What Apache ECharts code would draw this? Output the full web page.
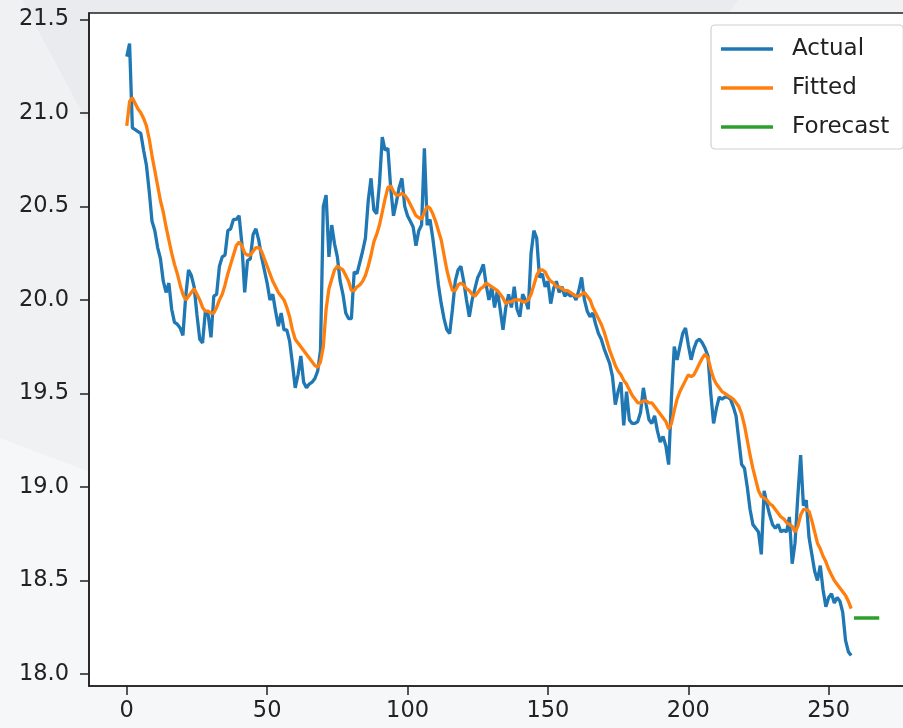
<!DOCTYPE html>
<html>
<head>
<meta charset="utf-8">
<script src="https://cdn.jsdelivr.net/npm/echarts@6/dist/echarts.min.js"></script>
<style>
  html, body { margin: 0; padding: 0; background: #f6f7f8; }
  #main { width: 903px; height: 728px; }
</style>
</head>
<body>
<div id="main"></div>
<script>
var actual = [
  21.30, 21.37, 20.92, 20.91, 20.90, 20.89, 20.80, 20.72, 20.58, 20.42,
  20.37, 20.28, 20.22, 20.10, 20.04, 20.09, 19.95, 19.88, 19.87, 19.85,
  19.81, 20.02, 20.16, 20.13, 20.07, 19.92, 19.79, 19.77, 19.94, 19.92,
  19.80, 20.02, 20.03, 20.18, 20.23, 20.24, 20.37, 20.38, 20.43, 20.43,
  20.45, 20.30, 20.04, 20.21, 20.22, 20.35, 20.38, 20.32, 20.23, 20.16,
  20.09, 20.00, 20.03, 19.94, 19.86, 19.93, 19.84, 19.84, 19.78, 19.66,
  19.53, 19.60, 19.70, 19.56, 19.53, 19.55, 19.56, 19.58, 19.62, 19.73,
  20.50, 20.56, 20.23, 20.40, 20.30, 20.23, 20.10, 20.03, 19.93, 19.90,
  19.90, 20.15, 20.14, 20.20, 20.26, 20.33, 20.53, 20.65, 20.48, 20.46,
  20.62, 20.87, 20.80, 20.81, 20.60, 20.45, 20.52, 20.60, 20.65, 20.50,
  20.45, 20.42, 20.39, 20.29, 20.37, 20.40, 20.81, 20.40, 20.43, 20.33,
  20.21, 20.08, 19.98, 19.90, 19.84, 19.82, 19.95, 20.10, 20.16, 20.18,
  20.10, 20.00, 19.91, 20.00, 20.06, 20.12, 20.15, 20.19, 20.08, 20.00,
  20.07, 19.96, 20.05, 19.95, 19.84, 19.96, 20.03, 19.96, 20.07, 19.95,
  19.91, 20.03, 20.00, 19.95, 20.25, 20.37, 20.33, 20.12, 20.14, 20.07,
  20.10, 19.98, 20.06, 20.10, 20.04, 20.07, 20.02, 20.04, 20.02, 20.03,
  20.00, 20.05, 20.12, 20.00, 19.94, 19.91, 19.93, 19.87, 19.82, 19.79,
  19.74, 19.70, 19.66, 19.59, 19.44, 19.51, 19.56, 19.33, 19.51, 19.36,
  19.34, 19.34, 19.35, 19.40, 19.53, 19.44, 19.36, 19.34, 19.38, 19.30,
  19.24, 19.27, 19.22, 19.12, 19.48, 19.75, 19.68, 19.75, 19.82, 19.85,
  19.76, 19.68, 19.74, 19.78, 19.79, 19.77, 19.74, 19.70, 19.50, 19.34,
  19.42, 19.48, 19.47, 19.48, 19.48, 19.47, 19.43, 19.38, 19.25, 19.12,
  19.10, 19.00, 18.88, 18.80, 18.78, 18.76, 18.64, 18.98, 18.91, 18.85,
  18.80, 18.78, 18.80, 18.76, 18.77, 18.76, 18.84, 18.59, 18.70, 18.95,
  19.17, 18.90, 18.93, 18.73, 18.64, 18.55, 18.50, 18.58, 18.45, 18.36,
  18.41, 18.43, 18.38, 18.41, 18.39, 18.33, 18.18, 18.12, 18.10
];

var fitted = [
  20.93, 21.06, 21.08, 21.05, 21.02, 21.00, 20.97, 20.93, 20.86, 20.77,
  20.69, 20.61, 20.53, 20.47, 20.39, 20.32, 20.25, 20.19, 20.14, 20.08,
  20.03, 20.00, 20.02, 20.04, 20.06, 20.03, 20.00, 19.96, 19.94, 19.94,
  19.93, 19.93, 19.96, 20.00, 20.03, 20.08, 20.14, 20.19, 20.24, 20.29,
  20.31, 20.29, 20.25, 20.24, 20.24, 20.26, 20.28, 20.28, 20.26, 20.22,
  20.18, 20.14, 20.10, 20.07, 20.04, 20.02, 20.00, 19.96, 19.91, 19.84,
  19.79, 19.77, 19.75, 19.73, 19.71, 19.69, 19.67, 19.65, 19.64, 19.67,
  19.75, 19.95, 20.06, 20.11, 20.16, 20.18, 20.17, 20.16, 20.13, 20.10,
  20.05, 20.05, 20.07, 20.08, 20.10, 20.13, 20.18, 20.24, 20.31, 20.35,
  20.40, 20.47, 20.54, 20.60, 20.61, 20.58, 20.56, 20.56, 20.57, 20.56,
  20.54, 20.51, 20.48, 20.45, 20.44, 20.43, 20.47, 20.50, 20.49, 20.46,
  20.42, 20.37, 20.32, 20.24, 20.16, 20.10, 20.05, 20.05, 20.08, 20.09,
  20.08, 20.06, 20.05, 20.03, 20.02, 20.04, 20.06, 20.07, 20.09, 20.08,
  20.07, 20.06, 20.05, 20.03, 20.01, 19.98, 19.99, 19.99, 20.00, 20.00,
  20.00, 19.99, 19.99, 20.00, 20.03, 20.08, 20.13, 20.16, 20.16, 20.15,
  20.12, 20.10, 20.09, 20.07, 20.07, 20.06, 20.05, 20.05, 20.04, 20.03,
  20.02, 20.02, 20.03, 20.04, 20.02, 20.00, 19.96, 19.93, 19.90, 19.87,
  19.83, 19.78, 19.73, 19.69, 19.65, 19.62, 19.60, 19.57, 19.55, 19.52,
  19.49, 19.47, 19.45, 19.45, 19.46, 19.46, 19.45, 19.45, 19.43, 19.41,
  19.39, 19.37, 19.35, 19.31, 19.34, 19.41, 19.47, 19.51, 19.54, 19.57,
  19.60, 19.59, 19.60, 19.63, 19.66, 19.69, 19.71, 19.69, 19.63, 19.58,
  19.55, 19.53, 19.51, 19.50, 19.49, 19.48, 19.47, 19.45, 19.43, 19.39,
  19.33, 19.25, 19.17, 19.10, 19.04, 18.98, 18.95, 18.94, 18.93, 18.91,
  18.90, 18.88, 18.86, 18.84, 18.83, 18.81, 18.80, 18.79, 18.76, 18.79,
  18.85, 18.88, 18.88, 18.87, 18.82, 18.76, 18.70, 18.67, 18.63, 18.60,
  18.56, 18.53, 18.50, 18.48, 18.46, 18.44, 18.42, 18.39, 18.35
];

var forecastX = [259, 260, 261, 262, 263, 264, 265, 266, 267, 268];
var forecastValues = [18.30, 18.30, 18.30, 18.30, 18.30, 18.30, 18.30, 18.30, 18.30, 18.30];

var xTicks = [0, 50, 100, 150, 200, 250];
var yTicks = [18.0, 18.5, 19.0, 19.5, 20.0, 20.5, 21.0, 21.5];

var actualData = actual.map(function (v, i) { return [i, v]; });
var fittedData = fitted.map(function (v, i) { return [i, v]; });
var forecastData = forecastX.map(function (x, i) { return [x, forecastValues[i]]; });

var myChart = echarts.init(document.getElementById('main'));

var font = 'DejaVu Sans';
var ink = '#222';

var option = {
    animation: false,
    backgroundColor: '#f6f7f8',
    graphic: [
        {
            type: 'polygon', z: -100, silent: true,
            shape: { points: [[0, 0], [903, 0], [903, 14], [90, 14], [90, 472], [0, 438]] },
            style: { fill: '#eff1f3' }
        },
        {
            type: 'polygon', z: -99, silent: true,
            shape: { points: [[22, 0], [738, 0], [728, 14], [90, 14], [90, 122], [84, 116]] },
            style: { fill: '#e9ebee' }
        }
    ],
    grid: {
        left: 89,
        top: 13,
        width: 828,
        bottom: 42,
        outerBoundsMode: 'none',
        show: true,
        backgroundColor: '#ffffff',
        borderColor: ink,
        borderWidth: 1.6
    },
    legend: {
        orient: 'vertical',
        left: 711,
        top: 25,
        padding: [10, 14, 8, 10],
        icon: 'rect',
        itemWidth: 52,
        itemHeight: 3.5,
        itemGap: 11,
        backgroundColor: 'rgba(255,255,255,0.85)',
        borderColor: '#d0d0d0',
        borderWidth: 1.2,
        borderRadius: 4,
        textStyle: {
            fontFamily: font,
            fontSize: 23,
            color: ink,
            lineHeight: 28,
            padding: [0, 0, 0, 14]
        },
        data: ['Actual', 'Fitted', 'Forecast']
    },
    xAxis: {
        type: 'value',
        min: -13.45,
        max: 281.45,
        splitLine: { show: false },
        axisLine: { show: true, onZero: false, lineStyle: { color: ink, width: 1.6 } },
        axisTick: {
            show: true, length: 9, customValues: xTicks,
            lineStyle: { color: ink, width: 1.5 }
        },
        axisLabel: {
            customValues: xTicks,
            margin: 14,
            fontFamily: font,
            fontSize: 22.5,
            color: ink
        }
    },
    yAxis: {
        type: 'value',
        min: 17.9365,
        max: 21.5335,
        splitLine: { show: false },
        axisLine: { show: true, onZero: false, lineStyle: { color: ink, width: 1.6 } },
        axisTick: {
            show: true, length: 9, customValues: yTicks,
            lineStyle: { color: ink, width: 1.5 }
        },
        axisLabel: {
            customValues: yTicks,
            margin: 20,
            fontFamily: font,
            fontSize: 22.5,
            color: ink,
            formatter: function (v) { return v.toFixed(1); }
        }
    },
    series: [
        {
            name: 'Actual', type: 'line', data: actualData,
            symbol: 'none', color: '#1f77b4',
            lineStyle: { width: 3.3 }
        },
        {
            name: 'Fitted', type: 'line', data: fittedData,
            symbol: 'none', color: '#ff7f0e',
            lineStyle: { width: 3.3 }
        },
        {
            name: 'Forecast', type: 'line', data: forecastData,
            symbol: 'none', color: '#2ca02c',
            lineStyle: { width: 3.3 }
        }
    ]
};

myChart.setOption(option);
</script>
</body>
</html>
